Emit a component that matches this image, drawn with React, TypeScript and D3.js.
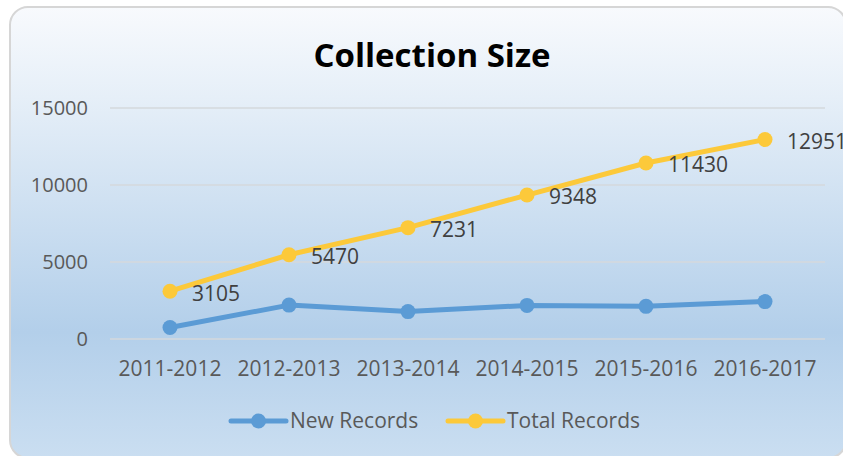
import React from "react";
import * as d3 from "d3";

const categories = ["2011-2012", "2012-2013", "2013-2014", "2014-2015", "2015-2016", "2016-2017"];
const newRecords = [750, 2200, 1780, 2180, 2120, 2430];
const totalRecords = [3105, 5470, 7231, 9348, 11430, 12951];
const yTicks = [0, 5000, 10000, 15000];
const seriesNames = ["New Records", "Total Records"];
const title = "Collection Size";

const W = 843;
const H = 456;
const FONT = "'Open Sans', sans-serif";
const TXT = "#595959";
const BLUE = "#5b9bd5";
const GOLD = "#fcc93a";

export default function App() {
  const x = d3.scaleBand<string>().domain(categories).range([110.5, 824.5]);
  const y = d3.scaleLinear().domain([0, 15000]).range([339, 108]);
  const cx = (c: string) => (x(c) as number) + x.bandwidth() / 2;
  const line = d3
    .line<number>()
    .x((_, i) => cx(categories[i]))
    .y((d) => y(d));

  const series = [
    { name: seriesNames[0], values: newRecords, color: BLUE, labels: false },
    { name: seriesNames[1], values: totalRecords, color: GOLD, labels: true },
  ];
  const legendX = [231, 448];

  return (
    <svg
      width={W}
      height={H}
      style={{ position: "absolute", left: 0, top: 0 }}
      fontFamily={FONT}
    >
      <defs>
        <linearGradient id="bg" x1="0" y1="0" x2="0" y2="1">
          <stop offset="0" stopColor="#f8fafd" />
          <stop offset="0.2" stopColor="#e6eff8" />
          <stop offset="0.72" stopColor="#b3cfea" />
          <stop offset="1" stopColor="#cadef1" />
        </linearGradient>
      </defs>
      <rect x={10} y={7} width={836} height={451} rx={18} fill="url(#bg)" stroke="#d6d6d6" strokeWidth={2} />
      <text x={432} y={67} textAnchor="middle" fontSize={33} fontWeight="bold" fill="#000">
        {title}
      </text>
      {yTicks.map((t) => (
        <g key={t}>
          <line x1={110} x2={825} y1={y(t)} y2={y(t)} stroke="#d5d8dc" strokeWidth={1.5} />
          <text x={88} y={y(t)} dy="0.35em" textAnchor="end" fontSize={20} fill={TXT}>
            {t}
          </text>
        </g>
      ))}
      {categories.map((c) => (
        <text key={c} x={cx(c)} y={376} textAnchor="middle" fontSize={21} fill={TXT}>
          {c}
        </text>
      ))}
      {series.map((s) => (
        <g key={s.name}>
          <path d={line(s.values) || ""} fill="none" stroke={s.color} strokeWidth={5} strokeLinejoin="round" />
          {s.values.map((v, i) => (
            <circle key={i} cx={cx(categories[i])} cy={y(v)} r={7.5} fill={s.color} />
          ))}
          {s.labels &&
            s.values.map((v, i) => (
              <text key={"l" + i} x={cx(categories[i]) + 22} y={y(v) + 2} dy="0.35em" fontSize={21} fill="#404040">
                {v}
              </text>
            ))}
        </g>
      ))}
      {series.map((s, i) => (
        <g key={"lg" + s.name}>
          <line x1={legendX[i]} x2={legendX[i] + 55} y1={421} y2={421} stroke={s.color} strokeWidth={5} strokeLinecap="round" />
          <circle cx={legendX[i] + 27.5} cy={421} r={7.5} fill={s.color} />
          <text x={legendX[i] + 59} y={421} dy="0.35em" fontSize={21} fill={TXT}>
            {s.name}
          </text>
        </g>
      ))}
    </svg>
  );
}
